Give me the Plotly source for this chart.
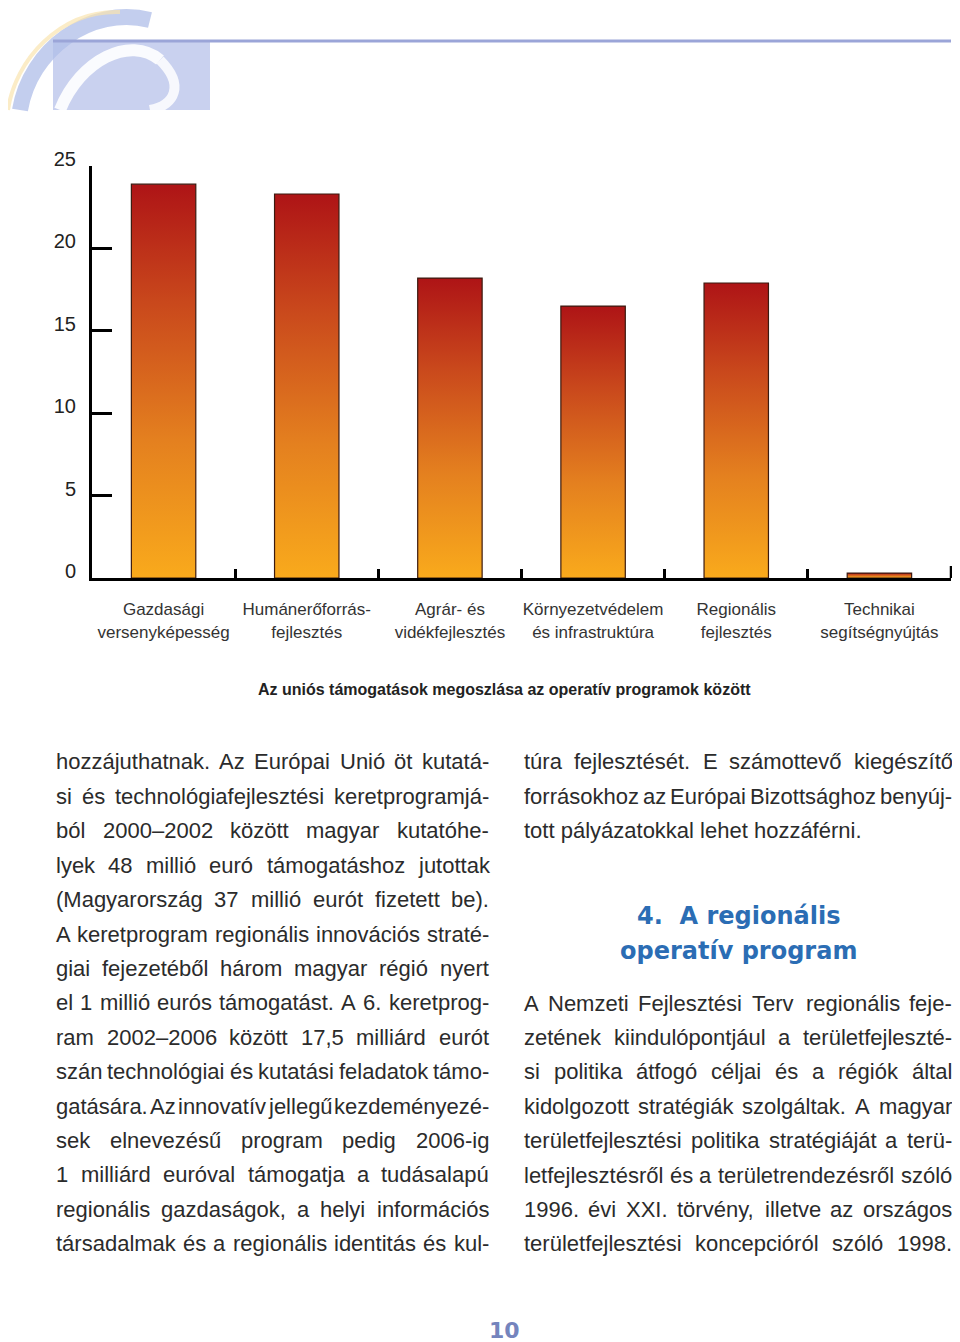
import unicodedata
import plotly.graph_objects as go

# chart data
categories = [
    "Gazdasági<br>versenyképesség",
    "Humánerőforrás-<br>fejlesztés",
    "Agrár- és<br>vidékfejlesztés",
    "Környezetvédelem<br>és infrastruktúra",
    "Regionális<br>fejlesztés",
    "Technikai<br>segítségnyújtás",
]
values = [23.9, 23.3, 18.2, 16.5, 17.9, 0.3]
y_ticks = [0, 5, 10, 15, 20, 25]
chart_title = "Az uniós támogatások megoszlása az operatív programok között"

# page text
left_lines = [
    "hozzájuthatnak. Az Európai Unió öt kutatá-",
    "si és technológiafejlesztési keretprogramjá-",
    "ból 2000–2002 között magyar kutatóhe-",
    "lyek 48 millió euró támogatáshoz jutottak",
    "(Magyarország 37 millió eurót fizetett be).",
    "A keretprogram regionális innovációs straté-",
    "giai fejezetéből három magyar régió nyert",
    "el 1 millió eurós támogatást. A 6. keretprog-",
    "ram 2002–2006 között 17,5 milliárd eurót",
    "szán technológiai és kutatási feladatok támo-",
    "gatására. Az innovatív jellegű kezdeményezé-",
    "sek elnevezésű program pedig 2006-ig",
    "1 milliárd euróval támogatja a tudásalapú",
    "regionális gazdaságok, a helyi információs",
    "társadalmak és a regionális identitás és kul-",
]
right_top_lines = [
    "túra fejlesztését. E számottevő kiegészítő",
    "forrásokhoz az Európai Bizottsághoz benyúj-",
    "tott pályázatokkal lehet hozzáférni.",
]
heading_lines = ["4.  A regionális", "operatív program"]
right_bottom_lines = [
    "A Nemzeti Fejlesztési Terv regionális feje-",
    "zetének kiindulópontjául a területfejleszté-",
    "si politika átfogó céljai és a régiók által",
    "kidolgozott stratégiák szolgáltak. A magyar",
    "területfejlesztési politika stratégiáját a terü-",
    "letfejlesztésről és a területrendezésről szóló",
    "1996. évi XXI. törvény, illetve az országos",
    "területfejlesztési koncepcióról szóló 1998.",
]
page_number = "10"

# the page body has an 8px margin, so the figure is drawn 8px in from the corner
OFF = 8
W, H = 960 - OFF, 1342 - OFF


def px(x):
    return (x - OFF) / W


def py(y):
    return 1 - (y - OFF) / H


# Arial / Liberation Sans advance widths (1/1000 em)
ARIAL = dict(zip("abcdefghijklmnopqrstuvwxyz",
                 [556, 556, 500, 556, 556, 278, 556, 556, 222, 222, 500, 222, 833,
                  556, 556, 556, 556, 333, 500, 278, 556, 500, 722, 500, 500, 500]))
ARIAL.update(zip("ABCDEFGHIJKLMNOPQRSTUVWXYZ",
                 [667, 667, 722, 722, 667, 611, 778, 722, 278, 500, 667, 556, 833,
                  722, 778, 667, 778, 722, 667, 611, 722, 667, 944, 667, 667, 611]))
ARIAL.update({c: 556 for c in "0123456789"})
ARIAL.update({".": 278, ",": 278, "-": 333, "–": 556, "(": 333, ")": 333, " ": 278})

BODY_SIZE = 22
BODY_FONT = dict(family="Liberation Sans, Arial, sans-serif", size=BODY_SIZE, color="#2b2b2b")


def text_w(s, size=BODY_SIZE):
    total = 0
    for c in s:
        base = unicodedata.normalize("NFD", c)[0]
        total += ARIAL.get(base, 556)
    return total * size / 1000


annotations = []


def add_line(text, x0, x1, y, justify=True):
    words = text.split(" ")
    if not justify or len(words) == 1:
        annotations.append(dict(x=px(x0), y=py(y), text=text, xanchor="left", yanchor="middle",
                                showarrow=False, font=BODY_FONT, xref="paper", yref="paper"))
        return
    widths = [text_w(w) for w in words]
    gap = (x1 - x0 - sum(widths)) / (len(words) - 1)
    x = x0
    for w, wd in zip(words, widths):
        annotations.append(dict(x=px(x), y=py(y), text=w, xanchor="left", yanchor="middle",
                                showarrow=False, font=BODY_FONT, xref="paper", yref="paper"))
        x += wd + gap


fig = go.Figure()

colorscale = [[0, "#f9aa1c"], [0.35, "#e4801f"], [0.7, "#c9481c"], [1, "#ae1416"]]
hw = 0.225
for i, v in enumerate(values):
    fig.add_trace(go.Scatter(
        x=[i - hw, i - hw, i + hw, i + hw, i - hw],
        y=[0, v, v, 0, 0],
        mode="lines",
        fill="toself",
        fillgradient=dict(type="vertical", colorscale=colorscale),
        line=dict(color="#3b1a10", width=1.2),
        hoverinfo="skip",
        showlegend=False,
    ))

fig.update_xaxes(
    domain=[px(92), px(951)],
    range=[-0.5, 5.5],
    tickvals=list(range(len(categories))),
    ticktext=categories,
    tickangle=0,
    ticks="",
    showline=True, linecolor="black", linewidth=3,
    minor=dict(tickvals=[k + 0.5 for k in range(len(categories))], ticks="inside",
               ticklen=9, tickwidth=2.5, tickcolor="black"),
    tickfont=dict(family="Liberation Sans, Arial, sans-serif", size=17, color="#333333"),
    ticklabelstandoff=14,
    automargin=False,
    showgrid=False, zeroline=False, fixedrange=True,
)
fig.update_yaxes(
    domain=[py(578), py(166)],
    range=[0, 25],
    tickvals=y_ticks,
    ticks="inside", ticklen=20, tickwidth=3, tickcolor="black",
    showline=True, linecolor="black", linewidth=3,
    tickfont=dict(family="Liberation Sans, Arial, sans-serif", size=20, color="#222222"),
    ticklabelstandoff=9, ticklabelshift=-7,
    automargin=False,
    showgrid=False, zeroline=False, fixedrange=True,
)

# chart caption
annotations.append(dict(x=px(504), y=py(689), text=chart_title, showarrow=False,
                        xref="paper", yref="paper", xanchor="center", yanchor="middle",
                        font=dict(family="Liberation Sans, Arial, sans-serif", size=16,
                                  color="#222222", weight="bold")))

# body columns (right edge kept inside the visible page area)
LINE_H = 34.4
RIGHT_EDGE = 950
for k, line in enumerate(left_lines):
    add_line(line, 54, 487, 762 + k * LINE_H)
for k, line in enumerate(right_top_lines):
    add_line(line, 522, RIGHT_EDGE, 762 + k * LINE_H, justify=(k < len(right_top_lines) - 1))
for k, line in enumerate(heading_lines):
    annotations.append(dict(x=px(738), y=py(916 + k * 35), text=line, showarrow=False,
                            xref="paper", yref="paper", xanchor="center", yanchor="middle",
                            font=dict(family="DejaVu Sans, sans-serif", size=24,
                                      color="#2b6db4", weight="bold")))
for k, line in enumerate(right_bottom_lines):
    add_line(line, 522, RIGHT_EDGE, 1003 + k * LINE_H)

annotations.append(dict(x=px(504), y=py(1330), text=page_number, showarrow=False,
                        xref="paper", yref="paper", xanchor="center", yanchor="middle",
                        font=dict(family="DejaVu Sans, sans-serif", size=22,
                                  color="#7484bd", weight="bold")))


def curve(p0, c1, c2, p1):
    return (f"M {px(p0[0])},{py(p0[1])} C {px(c1[0])},{py(c1[1])} "
            f"{px(c2[0])},{py(c2[1])} {px(p1[0])},{py(p1[1])}")


shapes = [
    # header logo block
    dict(type="rect", xref="paper", yref="paper", x0=px(53), x1=px(210), y0=py(110), y1=py(41),
         fillcolor="#c9d1ef", line=dict(width=0), layer="below"),
    dict(type="path", xref="paper", yref="paper",
         path=curve((20, 110), (30, 50), (90, 5), (150, 20)),
         line=dict(color="rgba(175,190,232,0.75)", width=16), layer="below"),
    dict(type="path", xref="paper", yref="paper",
         path=curve((8, 110), (15, 60), (60, 10), (120, 12)),
         line=dict(color="rgba(250,228,175,0.7)", width=4), layer="below"),
    dict(type="path", xref="paper", yref="paper",
         path=curve((60, 110), (80, 60), (130, 35), (160, 60)),
         line=dict(color="rgba(255,255,255,0.9)", width=12)),
    dict(type="path", xref="paper", yref="paper",
         path=curve((160, 60), (185, 85), (175, 105), (150, 110)),
         line=dict(color="rgba(255,255,255,0.85)", width=10)),
    dict(type="line", xref="paper", yref="paper", x0=px(53), x1=px(951), y0=py(41), y1=py(41),
         line=dict(color="#9ba5d8", width=3)),
    # taller closing tick at the right end of the axis
    dict(type="line", xref="paper", yref="paper", x0=px(951), x1=px(951), y0=py(578), y1=py(566),
         line=dict(color="black", width=2.5)),
]

fig.update_layout(
    width=W, height=H,
    margin=dict(l=0, r=0, t=0, b=0),
    paper_bgcolor="white", plot_bgcolor="white",
    showlegend=False,
    annotations=annotations,
    shapes=shapes,
)

fig.write_html("out.html")
